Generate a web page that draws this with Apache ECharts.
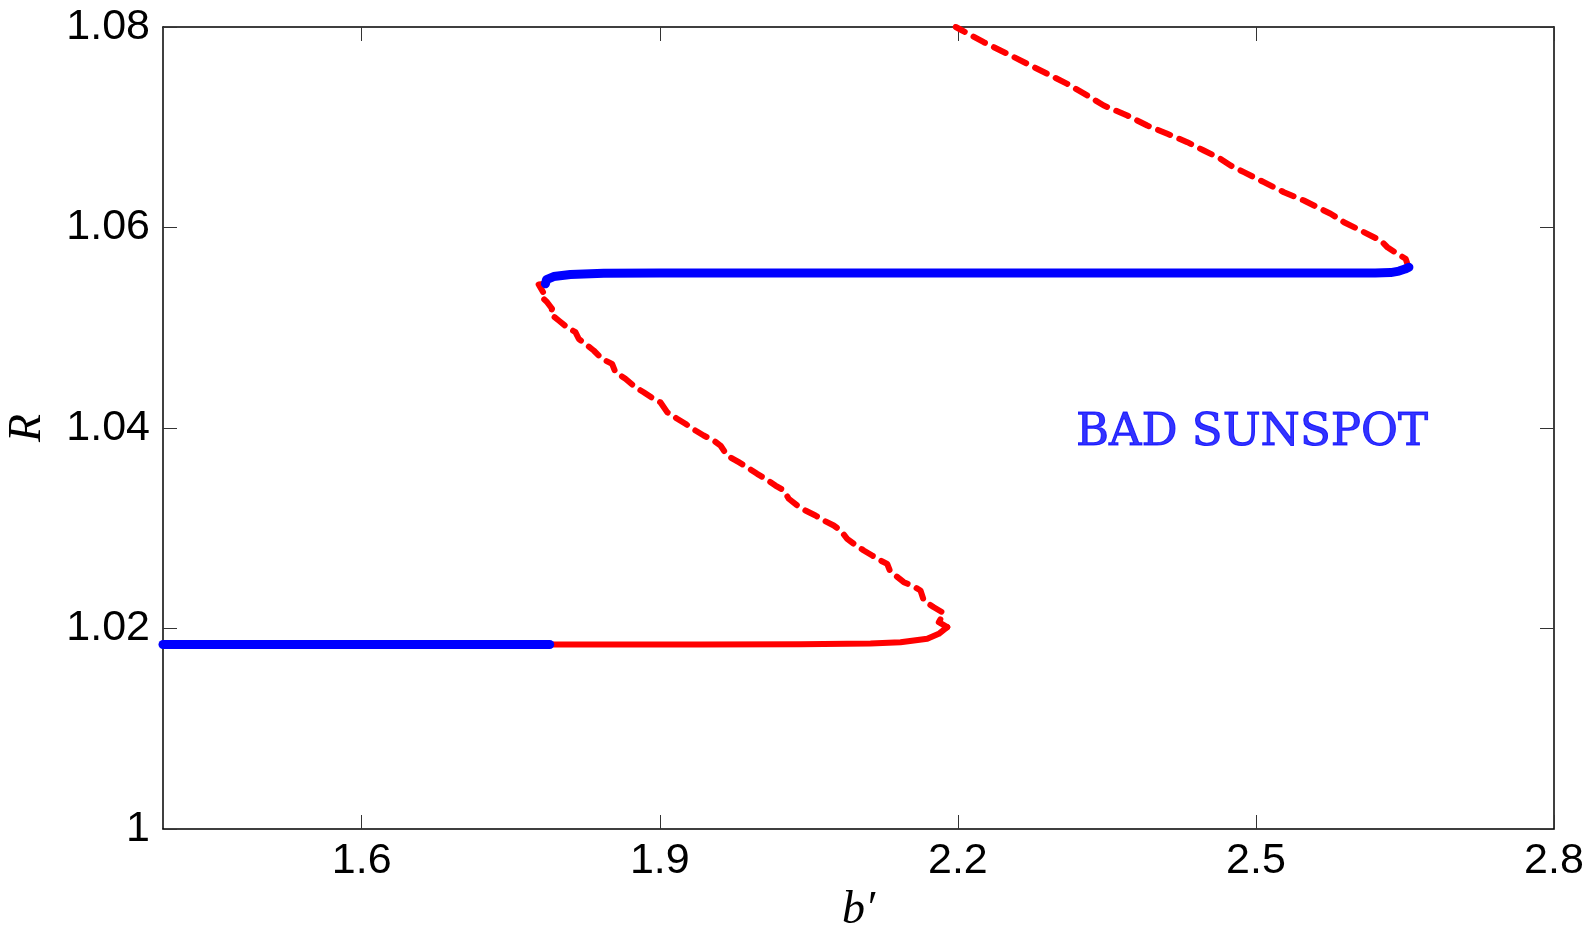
<!DOCTYPE html>
<html>
<head>
<meta charset="utf-8">
<title>R versus b′</title>
<script src="https://cdn.jsdelivr.net/npm/echarts@6/dist/echarts.min.js"></script>
<style>
  html, body { margin: 0; padding: 0; background: #ffffff; }
  #chart { width: 1591px; height: 927px; }
</style>
</head>
<body>
<div id="chart"></div>
<script>
// Axis ticks
const xTicks = [1.6, 1.9, 2.2, 2.5, 2.8];
const yTicks = [1.00, 1.02, 1.04, 1.06, 1.08];

// Lower stable branch (blue)
const lowStableB = [1.40, 1.7892];
const lowStableR = [1.0184, 1.0184];

// Lower branch continued, unstable (red, solid) up to the fold
const lowRedB = [1.7892, 1.9409, 2.0417, 2.1121, 2.1423, 2.1692, 2.1808, 2.1893];
const lowRedR = [1.0184, 1.0184, 1.01842, 1.0185, 1.01863, 1.01897, 1.01947, 1.02013];

// Middle branch (red, dashed) from the lower fold back to the upper fold
const midRedB = [2.1893, 2.1808, 2.1859, 2.1758, 2.1657, 2.1624, 2.1557, 2.1456, 2.1372, 2.1315,
  2.1289, 2.1222, 2.1138, 2.1053, 2.0953, 2.0886, 2.0819, 2.0751, 2.0651, 2.0567,
  2.0466, 2.0383, 2.0298, 2.0248, 2.0164, 2.0064, 1.9980, 1.9879, 1.9795, 1.9678,
  1.9611, 1.9543, 1.9442, 1.9359, 1.9258, 1.9175, 1.9074, 1.9006, 1.8939, 1.8838,
  1.8755, 1.8654, 1.8553, 1.8520, 1.8420, 1.8335, 1.8184, 1.8151, 1.8067, 1.7983,
  1.7899, 1.7916, 1.7866, 1.7798, 1.7826, 1.7781, 1.7849];
const midRedR = [1.02013, 1.02063, 1.02153, 1.02212, 1.02279, 1.02379, 1.02418, 1.02462, 1.02529, 1.02579,
  1.02645, 1.02678, 1.02728, 1.02778, 1.02845, 1.02895, 1.02978, 1.03027, 1.03077, 1.03127,
  1.03177, 1.03227, 1.03294, 1.03377, 1.03426, 1.03493, 1.03543, 1.03609, 1.03659, 1.03726,
  1.03825, 1.03875, 1.03925, 1.03975, 1.04042, 1.04092, 1.04158, 1.04257, 1.04291, 1.04357,
  1.04407, 1.04491, 1.04557, 1.04640, 1.04690, 1.04773, 1.04890, 1.04956, 1.05005, 1.05072,
  1.05139, 1.05189, 1.05255, 1.05322, 1.05355, 1.05431, 1.05438];

// Upper stable branch (blue)
const upStableB = [1.7849, 1.7860, 1.7932, 1.8100, 1.8436, 1.9000, 2.3000, 2.6200, 2.6356, 2.6440, 2.6500, 2.6540];
const upStableR = [1.05438, 1.05480, 1.05511, 1.05531, 1.05543, 1.05545, 1.05545, 1.05545, 1.05550, 1.05565, 1.05585, 1.05604];

// Upper branch beyond the fold (red, dashed)
const upRedB = [2.6540, 2.6524, 2.6507, 2.6423, 2.6323, 2.6255, 2.6188, 2.6021, 2.5886, 2.5752,
  2.5684, 2.5483, 2.5282, 2.5080, 2.4879, 2.4745, 2.4644, 2.4476, 2.4309, 2.4108,
  2.3906, 2.3705, 2.3469, 2.3302, 2.3101, 2.2900, 2.2698, 2.2497, 2.2261, 2.2044, 2.1979];
const upRedR = [1.05604, 1.05638, 1.05688, 1.05738, 1.05803, 1.05870, 1.05903, 1.05987, 1.06053, 1.06137,
  1.06170, 1.06269, 1.06352, 1.06452, 1.06552, 1.06618, 1.06685, 1.06768, 1.06851, 1.06935,
  1.07017, 1.07117, 1.07217, 1.07317, 1.07433, 1.07533, 1.07633, 1.07733, 1.07848, 1.07965, 1.08000];

// Region annotation
const regionLabel = 'BAD SUNSPOT';
const regionAt = [2.5, 1.04];

const zip = (xs, ys) => xs.map((x, i) => [x, ys[i]]);

const BLUE = '#0000ff';
const RED = '#ff0000';
const sansFont = '"Liberation Sans", Arial, Helvetica, sans-serif';
const serifFont = '"Liberation Serif", "Times New Roman", serif';
const labelSerif = '"DejaVu Serif", "Liberation Serif", serif';

const chart = echarts.init(document.getElementById('chart'), null, { renderer: 'canvas' });

const axisLineStyle = { color: '#000000', width: 1.5 };
const tickStyle = { color: '#333333', width: 1 };

function yFmt(v) {
  const r = Math.round(v * 100) / 100;
  return r === 1 ? '1' : r.toFixed(2);
}

const lineSeries = (name, xs, ys, color, width, dashed, z) => ({
  name: name,
  type: 'line',
  data: zip(xs, ys),
  showSymbol: false,
  symbol: 'none',
  smooth: false,
  clip: true,
  z: z,
  animation: false,
  lineStyle: {
    color: color,
    width: width,
    type: dashed ? [13, 10] : 'solid',
    cap: 'round',
    join: 'round'
  }
});

chart.setOption({
  animation: false,
  backgroundColor: '#ffffff',
  grid: { left: 163, right: 37, top: 27, bottom: 98, containLabel: false, outerBoundsMode: 'none' },
  xAxis: [
    {
      type: 'value',
      min: 1.4,
      max: 2.8,
      position: 'bottom',
      name: 'b′',
      nameLocation: 'middle',
      nameGap: 52,
      nameTextStyle: { fontFamily: serifFont, fontStyle: 'italic', fontSize: 46, color: '#000000' },
      axisLine: { show: true, onZero: false, lineStyle: axisLineStyle },
      axisTick: { show: true, inside: true, length: 14, lineStyle: tickStyle, customValues: xTicks },
      axisLabel: {
        show: true, margin: 11, fontFamily: sansFont, fontSize: 43, color: '#000000',
        customValues: xTicks,
        formatter: v => (Math.round(v * 10) / 10).toFixed(1)
      },
      splitLine: { show: false }
    },
    {
      type: 'value',
      min: 1.4,
      max: 2.8,
      position: 'top',
      axisLine: { show: true, onZero: false, lineStyle: axisLineStyle },
      axisTick: { show: true, inside: true, length: 14, lineStyle: tickStyle, customValues: xTicks },
      axisLabel: { show: false },
      splitLine: { show: false }
    }
  ],
  yAxis: [
    {
      type: 'value',
      min: 1.0,
      max: 1.08,
      interval: 0.02,
      position: 'left',
      name: 'R',
      nameLocation: 'middle',
      nameGap: 112,
      nameRotate: 90,
      nameTextStyle: { fontFamily: serifFont, fontStyle: 'italic', fontSize: 46, color: '#000000' },
      axisLine: { show: true, onZero: false, lineStyle: axisLineStyle },
      axisTick: { show: true, inside: true, length: 14, lineStyle: tickStyle },
      axisLabel: { show: true, margin: 13, fontFamily: sansFont, fontSize: 43, color: '#000000', formatter: yFmt },
      splitLine: { show: false }
    },
    {
      type: 'value',
      min: 1.0,
      max: 1.08,
      interval: 0.02,
      position: 'right',
      axisLine: { show: true, onZero: false, lineStyle: axisLineStyle },
      axisTick: { show: true, inside: true, length: 14, lineStyle: tickStyle },
      axisLabel: { show: false },
      splitLine: { show: false }
    }
  ],
  series: [
    lineSeries('lower unstable', lowRedB, lowRedR, RED, 6, false, 2),
    lineSeries('middle unstable', midRedB, midRedR, RED, 6, true, 2),
    lineSeries('upper unstable', upRedB, upRedR, RED, 6, true, 2),
    lineSeries('lower stable', lowStableB, lowStableR, BLUE, 9, false, 3),
    lineSeries('upper stable', upStableB, upStableR, BLUE, 9, false, 3),
    {
      name: 'region',
      type: 'scatter',
      data: [regionAt],
      symbolSize: 0,
      silent: true,
      z: 4,
      label: {
        show: true,
        position: 'inside',
        offset: [-4, 5],
        formatter: regionLabel,
        fontFamily: labelSerif,
        fontSize: 45,
        color: BLUE,
        textBorderColor: BLUE,
        textBorderWidth: 1
      }
    }
  ]
});
</script>
</body>
</html>
